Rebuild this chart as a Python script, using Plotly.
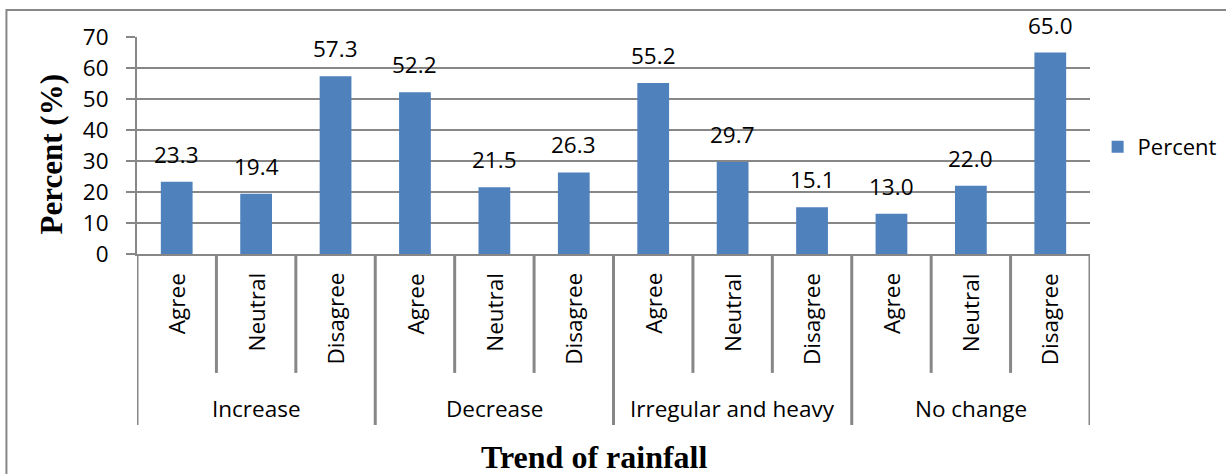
import plotly.graph_objects as go

# Survey responses on perceived rainfall trends
trends = ["Increase", "Decrease", "Irregular and heavy", "No change"]
responses = ["Agree", "Neutral", "Disagree"]
percent = [23.3, 19.4, 57.3,
           52.2, 21.5, 26.3,
           55.2, 29.7, 15.1,
           13.0, 22.0, 65.0]
y_ticks = [0, 10, 20, 30, 40, 50, 60, 70]

BAR = "#4F81BD"
GRID = "#878787"
SANS = "Open Sans"
SERIF = "Liberation Serif"
FS = 22.5

n_resp = len(responses)
positions = list(range(len(percent)))
item_labels = [r for _ in trends for r in responses]

fig = go.Figure()
fig.add_trace(go.Bar(
    x=positions, y=percent, name="Percent",
    marker=dict(color=BAR, line=dict(width=0)),
    width=0.4, showlegend=True,
))

annotations = []
# value labels above each bar
for xi, v in zip(positions, percent):
    annotations.append(dict(
        x=xi, y=v, xref="x", yref="y", text=f"{v:.1f}", showarrow=False,
        yanchor="bottom", yshift=10,
        font=dict(family=SANS, size=FS, color="#000000"),
    ))
# rotated response labels under each bar
for xi, lab in zip(positions, item_labels):
    annotations.append(dict(
        x=xi, y=-0.078, xref="x", yref="paper", text=lab, showarrow=False,
        textangle=-90, xanchor="center", yanchor="top",
        font=dict(family=SANS, size=FS, color="#000000"),
    ))
# trend group labels
for gi, g in enumerate(trends):
    annotations.append(dict(
        x=gi * n_resp + (n_resp - 1) / 2, y=-0.71, xref="x", yref="paper",
        text=g, showarrow=False, xanchor="center", yanchor="middle",
        font=dict(family=SANS, size=FS, color="#000000"),
    ))
# axis titles
annotations.append(dict(
    x=0.4795, y=-0.935, xref="paper", yref="paper", text="<b>Trend of rainfall</b>",
    showarrow=False, xanchor="center", yanchor="middle",
    font=dict(family=SERIF, size=32, color="#000000"),
))
annotations.append(dict(
    x=-0.09, y=0.46, xref="paper", yref="paper", text="<b>Percent (%)</b>",
    showarrow=False, textangle=-90, xanchor="center", yanchor="middle",
    font=dict(family=SERIF, size=31, color="#000000"),
))

shapes = []
# separators between categories on the axis below the bars
for b in range(len(percent) + 1):
    is_group = b % n_resp == 0
    shapes.append(dict(
        type="line", xref="x", yref="paper",
        x0=b - 0.5, x1=b - 0.5, y0=0, y1=-0.788 if is_group else -0.548,
        line=dict(color=GRID, width=3),
    ))
# outer chart border
shapes.append(dict(
    type="rect", xref="paper", yref="paper",
    x0=-0.137, x1=1.2, y0=1.124, y1=-1.2,
    line=dict(color=GRID, width=2), fillcolor="rgba(0,0,0,0)", layer="below",
))

fig.update_layout(
    width=1226, height=474,
    margin=dict(l=137, r=136, t=37, b=220, pad=0, autoexpand=False),
    paper_bgcolor="white", plot_bgcolor="white",
    font=dict(family=SANS, size=FS, color="#000000"),
    xaxis=dict(
        range=[-0.5, len(percent) - 0.5], showticklabels=False, ticks="",
        showgrid=False, zeroline=False, showline=True,
        linecolor=GRID, linewidth=2, fixedrange=True,
    ),
    yaxis=dict(
        range=[0, 70], tickvals=y_ticks, ticks="outside", ticklen=9,
        tickcolor=GRID, tickwidth=2, showline=True, linecolor=GRID, linewidth=2,
        showgrid=True, gridcolor=GRID, gridwidth=2, zeroline=False,
        ticklabelstandoff=13, tickfont=dict(family=SANS, size=FS, color="#000000"),
    ),
    legend=dict(
        x=1.008, y=0.493, xanchor="left", yanchor="middle",
        font=dict(family=SANS, size=22, color="#000000"),
        bgcolor="rgba(0,0,0,0)", itemwidth=30,
    ),
    bargap=0.6,
    annotations=annotations,
    shapes=shapes,
)

fig.write_html("out.html")
